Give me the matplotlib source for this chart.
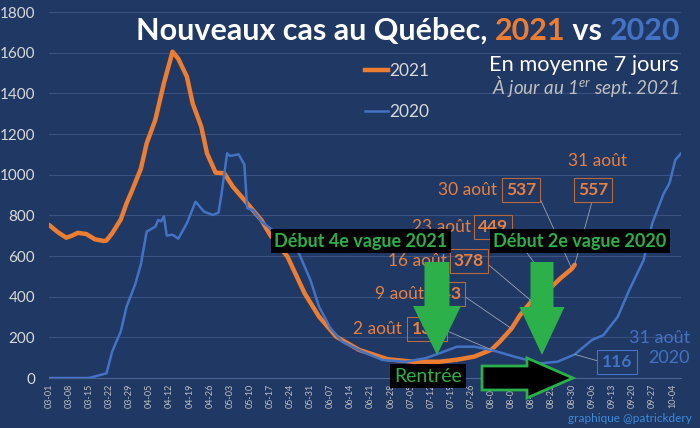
import numpy as np
import pandas as pd
import matplotlib
matplotlib.use('Agg')
import matplotlib.pyplot as plt
from matplotlib.patches import Polygon
from matplotlib.lines import Line2D
from matplotlib.transforms import Affine2D

# 7-day average of new cases (MM-DD)
dates_2021 = ['03-01', '03-04', '03-07', '03-09', '03-11', '03-14', '03-17', '03-20', '03-21',
              '03-23', '03-26', '03-28', '03-30', '04-02', '04-04', '04-07', '04-10', '04-13',
              '04-15', '04-18', '04-20', '04-23', '04-25', '04-28', '05-01', '05-04', '05-09',
              '05-14', '05-17', '05-23', '05-29', '06-03', '06-09', '06-17', '06-27', '07-06',
              '07-15', '07-21', '07-27', '08-02', '08-05', '08-09', '08-12', '08-16', '08-19',
              '08-23', '08-26', '08-30', '08-31']
cases_2021 = [753, 718, 690, 700, 714, 708, 682, 674, 676,
              712, 780, 859, 925, 1030, 1154, 1269, 1450, 1605,
              1570, 1482, 1351, 1236, 1105, 1010, 1007, 941, 859,
              775, 703, 597, 416, 302, 203, 138, 92, 80,
              80, 90, 105, 139, 180, 243, 310, 378, 415,
              449, 490, 537, 557]

dates_2020 = ['03-01', '03-15', '03-17', '03-21', '03-23', '03-26', '03-28', '03-31', '04-02',
              '04-04', '04-07', '04-08', '04-09', '04-10', '04-11', '04-13', '04-15', '04-18',
              '04-21', '04-24', '04-27', '04-29', '04-30', '05-02', '05-03', '05-06', '05-08',
              '05-09', '05-11', '05-14', '05-17', '05-23', '05-27', '05-31', '06-03', '06-07',
              '06-11', '06-18', '06-25', '07-03', '07-10', '07-15', '07-21', '07-27', '08-02',
              '08-10', '08-19', '08-25', '08-31', '09-06', '09-10', '09-15', '09-19', '09-24',
              '09-27', '10-01', '10-03', '10-05', '10-07']
cases_2020 = [0, 0, 8, 23, 130, 230, 351, 460, 560,
              720, 744, 777, 770, 795, 700, 705, 685, 761,
              867, 818, 802, 813, 900, 1105, 1092, 1100, 1050,
              835, 826, 769, 736, 679, 613, 482, 351, 244,
              179, 130, 89, 80, 97, 122, 154, 154, 138,
              105, 72, 80, 116, 187, 211, 302, 433, 580,
              761, 908, 958, 1072, 1105]

tick_labels = ['03-01', '03-08', '03-15', '03-22', '03-29', '04-05', '04-12', '04-19',
               '04-26', '05-03', '05-10', '05-17', '05-24', '05-31', '06-07', '06-14',
               '06-21', '06-28', '07-05', '07-12', '07-19', '07-26', '08-02', '08-09',
               '08-16', '08-23', '08-30', '09-06', '09-13', '09-20', '09-27', '10-04']

# labelled points of 2021
label_dates = ['08-02', '08-09', '08-16', '08-23', '08-30', '08-31']
label_names = ['2 août', '9 août', '16 août', '23 août', '30 août', '31 août']
label_2020_date = '08-31'

BG = '#1F3864'
ORANGE = '#ED7D31'
ORANGE_TXT = '#E8803F'
BLUE = '#4472C4'
GREEN = '#2BB04A'
GRID = '#3A5282'

plt.rcParams['font.family'] = ['Lato', 'DejaVu Sans']
plt.rcParams['mathtext.fontset'] = 'custom'
plt.rcParams['mathtext.rm'] = 'Lato:italic'
plt.rcParams['mathtext.it'] = 'Lato:italic'


def days(md):
    s = pd.to_datetime('2021-' + pd.Series(md))
    return (s - pd.Timestamp('2021-03-01')).dt.days.to_numpy()


x21, x20 = days(dates_2021), days(dates_2020)
v21 = dict(zip(dates_2021, cases_2021))
v20 = dict(zip(dates_2020, cases_2020))

W, H = 700, 428
fig = plt.figure(figsize=(W / 100, H / 100), dpi=100, facecolor=BG)
ax = fig.add_axes([49 / W, 1 - 378 / H, 632 / W, 366 / H], facecolor=BG)

ax.plot(x21, cases_2021, color=ORANGE, lw=3.2, solid_capstyle='round', zorder=3)
ax.plot(x20, cases_2020, color=BLUE, lw=1.8, zorder=4)

ax.set_xlim(0, 220)
ax.set_ylim(0, 1800)
ax.set_yticks(range(0, 1801, 200))
ax.set_xticks(days(tick_labels))
ax.set_xticklabels(tick_labels, rotation=90)
ax.tick_params(axis='x', length=0, pad=4, labelsize=6.5, labelcolor='#BFBFBF')
ax.tick_params(axis='y', length=0, pad=10, labelsize=11, labelcolor='#D9D9D9')
for s in ax.spines.values():
    s.set_visible(False)
ax.spines['bottom'].set_visible(True)
ax.spines['bottom'].set_color('#4A6296')
ax.grid(axis='y', color=GRID, lw=0.8)
ax.set_axisbelow(True)

# legend
handles = [Line2D([], [], color=ORANGE, lw=3.2), Line2D([], [], color=BLUE, lw=1.8)]
fig.legend(handles, ['2021', '2020'], loc='upper left', bbox_to_anchor=(365 / W, 1 - 63 / H),
           frameon=False, fontsize=12.5, labelcolor='#D9D9D9', handlelength=1.3,
           handletextpad=0.1, labelspacing=1.45, borderpad=0, borderaxespad=0)

# title, built right to left
tkw = dict(fontsize=22, fontweight='bold', annotation_clip=False)
t4 = fig.text(680 / W, 1 - 40 / H, '2020', color=BLUE, fontsize=22, fontweight='bold',
              ha='right', va='baseline')
t3 = ax.annotate(' vs ', xy=(0, 0), xycoords=t4, ha='right', va='bottom', color='white', **tkw)
t2 = ax.annotate('2021', xy=(0, 0), xycoords=t3, ha='right', va='bottom', color=ORANGE, **tkw)
ax.annotate('Nouveaux cas au Québec, ', xy=(0, 0), xycoords=t2, ha='right', va='bottom',
            color='white', **tkw)

fig.text(679 / W, 1 - 71 / H, 'En moyenne 7 jours', color='white', fontsize=15.7,
         ha='right', va='baseline')
fig.text(679 / W, 1 - 94 / H, r'À jour au 1$^{\rm er}$ sept. 2021', color='#BFBFBF',
         fontsize=13.5, style='italic', ha='right', va='baseline')
fig.text(692 / W, 1 - 419 / H, 'graphique @patrickdery', color='#3D8BD9', fontsize=8.5,
         ha='right', va='center')

# value labels with leader lines
box_xy = [(427, 329), (446, 294), (469, 261), (493, 227), (521, 190), (593, 190)]
name_xy = [(402, 329), (424, 294), (447, 261), (471, 227), (497, 190), (598, 161)]
relpos = [(1, 0.5), (1, 0.5), (1, 0.5), (1, 0.5), (1, 0.5), (0.5, 0)]
for d, name, (bx, by), (nx, ny), rp in zip(label_dates, label_names, box_xy, name_xy, relpos):
    val = v21[d]
    ax.annotate(str(val), xy=(days([d])[0], val), xytext=(bx, H - by),
                textcoords='figure pixels', ha='center', va='center', fontsize=12.5,
                fontweight='bold', color=ORANGE_TXT, zorder=6, annotation_clip=False,
                bbox=dict(boxstyle='square,pad=0.25', fc='none', ec='#B86A3E', lw=0.8),
                arrowprops=dict(arrowstyle='-', color='#9AA3B5', lw=0.6, relpos=rp,
                                shrinkA=0, shrinkB=0))
    ha = 'center' if d == label_dates[-1] else 'right'
    fig.text(nx / W, 1 - ny / H, name, color=ORANGE_TXT, fontsize=12.5, ha=ha, va='center')

val = v20[label_2020_date]
ax.annotate(str(val), xy=(days([label_2020_date])[0], val), xytext=(617, H - 362),
            textcoords='figure pixels', ha='center', va='center', fontsize=12.5,
            fontweight='bold', color=BLUE, zorder=6, annotation_clip=False,
            bbox=dict(boxstyle='square,pad=0.25', fc='none', ec=BLUE, lw=0.8),
            arrowprops=dict(arrowstyle='-', color='#9AA3B5', lw=0.6, relpos=(0, 0.5),
                            shrinkA=0, shrinkB=0))
fig.text(690 / W, 1 - 348 / H, '31 août\n2020', color=BLUE, fontsize=13, ha='right',
         va='center', multialignment='right', linespacing=1.3)

# overlays in image pixels (y down)
px = Affine2D().scale(1, -1).translate(0, H) + fig.dpi_scale_trans.frozen().inverted() + fig.dpi_scale_trans


def down_arrow(xc, top, base, tip, shaft_w, head_w):
    pts = [(xc - shaft_w / 2, top), (xc + shaft_w / 2, top), (xc + shaft_w / 2, base),
           (xc + head_w / 2, base), (xc, tip), (xc - head_w / 2, base), (xc - shaft_w / 2, base)]
    fig.add_artist(Polygon(pts, closed=True, fc=GREEN, ec='none', transform=px, zorder=7))


down_arrow(437, 262, 306, 355, 25, 48)
down_arrow(542, 262, 307, 355, 23, 45)

right = [(482, 366), (527, 366), (527, 358), (573, 378), (527, 398), (527, 390), (482, 390)]
fig.add_artist(Polygon(right, closed=True, fc='black', ec=GREEN, lw=2, transform=px, zorder=7))

bkw = dict(ha='center', va='center', color=GREEN, zorder=8,
           bbox=dict(boxstyle='square,pad=0.2', fc='black', ec='none'))
fig.text(361 / W, 1 - 241 / H, 'Début 4e vague 2021', fontsize=13, fontweight='bold', **bkw)
fig.text(580 / W, 1 - 241 / H, 'Début 2e vague 2020', fontsize=13, fontweight='bold', **bkw)
fig.text(428 / W, 1 - 376 / H, 'Rentrée', fontsize=14, **bkw)

fig.savefig('out.png', dpi=100, facecolor=BG)
